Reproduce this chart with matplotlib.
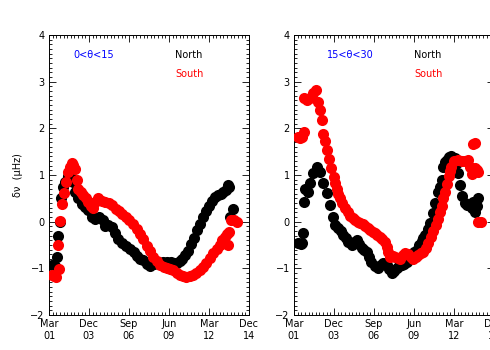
import matplotlib
matplotlib.use('Agg')
import matplotlib.pyplot as plt
from matplotlib.ticker import AutoMinorLocator

plt.rcParams.update({
    'font.family': ['DejaVu Sans'],
    'font.size': 7,
    'axes.unicode_minus': True,
})

# x ticks (decimal years) and labels
tick_years = [2001.17, 2003.92, 2006.67, 2009.42, 2012.17, 2014.92]
tick_labels = ['Mar\n01', 'Dec\n03', 'Sep\n06', 'Jun\n09', 'Mar\n12', 'Dec\n14']

# ---- left panel: 0 < theta < 15 ----
left_north_t = [2001.35, 2001.55, 2001.74, 2001.81, 2001.93, 2002.00, 2002.15, 2002.30, 2002.45,
                2002.60, 2002.80, 2002.96, 2003.18, 2003.41, 2003.65, 2003.87, 2004.10, 2004.35,
                2004.60, 2004.85, 2005.05, 2005.25, 2005.48, 2005.70, 2005.95, 2006.17, 2006.45,
                2006.75, 2007.00, 2007.20, 2007.45, 2007.65, 2007.90, 2008.10, 2008.40, 2008.70,
                2009.00, 2009.30, 2009.55, 2009.80, 2009.95, 2010.15, 2010.35, 2010.55, 2010.75,
                2010.95, 2011.15, 2011.35, 2011.55, 2011.75, 2011.95, 2012.15, 2012.35, 2012.60,
                2012.80, 2013.00, 2013.15, 2013.35, 2013.50, 2013.58, 2013.60, 2013.84]
left_north_v = [-0.93, -0.95, -0.75, -0.30, 0.00, 0.50, 0.75, 0.85, 0.97,
                0.98, 0.85, 0.63, 0.50, 0.38, 0.32, 0.24, 0.11, 0.06,
                0.09, 0.03, -0.10, -0.08, -0.12, -0.25, -0.38, -0.46, -0.52,
                -0.58, -0.66, -0.74, -0.79, -0.82, -0.90, -0.95, -0.91, -0.87,
                -0.86, -0.86, -0.86, -0.88, -0.89, -0.85, -0.80, -0.72, -0.62,
                -0.48, -0.35, -0.18, -0.05, 0.10, 0.22, 0.33, 0.44, 0.52,
                0.57, 0.60, 0.63, 0.68, 0.78, 0.74, 0.11, 0.28]

left_south_t = [2001.35, 2001.50, 2001.65, 2001.85, 2001.81, 2001.95, 2002.05, 2002.20, 2002.35,
                2002.50, 2002.62, 2002.73, 2002.85, 2002.96, 2003.07, 2003.18, 2003.35, 2003.53,
                2003.70, 2003.87, 2004.05, 2004.20, 2004.35, 2004.56, 2004.80, 2005.05, 2005.30,
                2005.50, 2005.75, 2006.00, 2006.20, 2006.45, 2006.70, 2006.95, 2007.20, 2007.45,
                2007.65, 2007.90, 2008.10, 2008.35, 2008.60, 2008.80, 2009.05, 2009.30, 2009.50,
                2009.70, 2009.95, 2010.17, 2010.40, 2010.60, 2010.85, 2011.10, 2011.30, 2011.55,
                2011.75, 2012.00, 2012.25, 2012.47, 2012.70, 2012.90, 2013.10, 2013.27, 2013.40,
                2013.45, 2013.55, 2013.70, 2013.90, 2014.10]
left_south_v = [-1.14, -1.16, -1.18, -1.02, -0.50, 0.02, 0.38, 0.62, 0.86,
                1.07, 1.18, 1.25, 1.22, 1.12, 0.90, 0.70, 0.64, 0.58,
                0.50, 0.42, 0.33, 0.30, 0.42, 0.50, 0.44, 0.42, 0.40,
                0.35, 0.28, 0.22, 0.17, 0.10, 0.04, -0.05, -0.15, -0.26,
                -0.38, -0.52, -0.63, -0.75, -0.85, -0.92, -0.97, -1.00, -1.02,
                -1.04, -1.10, -1.14, -1.17, -1.18, -1.16, -1.14, -1.10, -1.04,
                -0.98, -0.89, -0.78, -0.68, -0.58, -0.50, -0.40, -0.32, -0.27,
                -0.50, -0.22, 0.04, 0.04, 0.00]

# ---- right panel: 15 < theta < 30 ----
right_north_t = [2001.47, 2001.62, 2001.72, 2001.81, 2001.83, 2001.93, 2002.10, 2002.27, 2002.50,
                 2002.73, 2002.96, 2003.18, 2003.42, 2003.65, 2003.83, 2004.00, 2004.22, 2004.40,
                 2004.56, 2004.75, 2004.90, 2005.14, 2005.30, 2005.48, 2005.65, 2005.83, 2006.00,
                 2006.17, 2006.35, 2006.50, 2006.75, 2006.97, 2007.15, 2007.30, 2007.54, 2007.70,
                 2007.88, 2008.05, 2008.22, 2008.40, 2008.57, 2008.75, 2008.92, 2009.10, 2009.26,
                 2009.45, 2009.60, 2009.80, 2009.95, 2010.06, 2010.20, 2010.40, 2010.55, 2010.75,
                 2010.90, 2011.10, 2011.20, 2011.33, 2011.44, 2011.55, 2011.67, 2011.85, 2012.00,
                 2012.24, 2012.35, 2012.47, 2012.58, 2012.70, 2012.93, 2013.10, 2013.38, 2013.45,
                 2013.60, 2013.73, 2013.84]
right_north_v = [-0.46, -0.48, -0.46, -0.25, 0.43, 0.71, 0.64, 0.82, 1.04,
                 1.18, 1.07, 0.82, 0.61, 0.36, 0.11, -0.07, -0.14, -0.21,
                 -0.28, -0.36, -0.43, -0.50, -0.44, -0.39, -0.48, -0.57, -0.60,
                 -0.64, -0.75, -0.86, -0.95, -1.00, -0.92, -0.89, -0.93, -1.02,
                 -1.10, -1.05, -1.00, -0.96, -0.93, -0.90, -0.86, -0.79, -0.71,
                 -0.65, -0.60, -0.50, -0.42, -0.36, -0.28, -0.15, -0.02, 0.18,
                 0.40, 0.64, 0.75, 0.89, 1.18, 1.28, 1.32, 1.38, 1.40,
                 1.36, 1.25, 1.04, 0.79, 0.55, 0.39, 0.36, 0.29, 0.43,
                 0.21, 0.33, 0.50]

right_south_t = [2001.47, 2001.60, 2001.72, 2001.86, 2001.88, 2002.04, 2002.27, 2002.50, 2002.66,
                 2002.84, 2002.96, 2003.07, 2003.18, 2003.30, 2003.42, 2003.58, 2003.73, 2003.89,
                 2004.00, 2004.10, 2004.20, 2004.33, 2004.50, 2004.68, 2004.85, 2005.02, 2005.20,
                 2005.36, 2005.55, 2005.71, 2005.90, 2006.05, 2006.25, 2006.40, 2006.60, 2006.74,
                 2006.90, 2007.08, 2007.25, 2007.43, 2007.55, 2007.65, 2007.80, 2007.95, 2008.11,
                 2008.30, 2008.46, 2008.65, 2008.80, 2009.03, 2009.20, 2009.37, 2009.55, 2009.72,
                 2009.90, 2010.06, 2010.25, 2010.40, 2010.58, 2010.75, 2010.92, 2011.10, 2011.22,
                 2011.33, 2011.45, 2011.55, 2011.68, 2011.80, 2011.90, 2012.00, 2012.17, 2012.47,
                 2012.70, 2012.93, 2013.15, 2013.30, 2013.38, 2013.50, 2013.60, 2013.62, 2013.73,
                 2013.84, 2013.84, 2014.00]
right_south_v = [1.82, 1.80, 1.82, 1.93, 2.64, 2.61, 2.64, 2.75, 2.82,
                 2.57, 2.39, 2.18, 1.88, 1.72, 1.54, 1.35, 1.15, 0.95,
                 0.82, 0.70, 0.60, 0.50, 0.40, 0.30, 0.20, 0.12, 0.07,
                 0.03, 0.00, -0.02, -0.06, -0.10, -0.14, -0.17, -0.22, -0.25,
                 -0.28, -0.32, -0.38, -0.44, -0.55, -0.65, -0.76, -0.74, -0.75,
                 -0.78, -0.79, -0.72, -0.68, -0.70, -0.76, -0.79, -0.76, -0.72,
                 -0.68, -0.64, -0.56, -0.46, -0.33, -0.20, -0.07, 0.06, 0.20,
                 0.33, 0.50, 0.63, 0.80, 0.97, 1.08, 1.18, 1.29, 1.32,
                 1.31, 1.29, 1.33, 1.18, 1.02, 1.66, 1.68, 1.14, 1.11,
                 1.06, 0.00, 0.00]

err_val = 0.1

panels = [
    ('0<θ<15', left_north_t, left_north_v, left_south_t, left_south_v, 0.100, 0.225, 0.63),
    ('15<θ<30', right_north_t, right_north_v, right_south_t, right_south_v, 0.600, 0.28, 0.60),
]

fig = plt.figure(figsize=(4.9, 3.5), dpi=100)

for label, nt, nv, st, sv, x0, lab_x, ns_x in panels:
    ax = fig.add_axes([x0, 0.10, 0.408, 0.80])
    ax.errorbar(nt, nv, yerr=err_val, fmt='o', color='black', ms=8, mew=0,
                ecolor='#808080', elinewidth=0.5, capsize=1.3, zorder=3)
    ax.errorbar(st, sv, yerr=err_val, fmt='o', color='red', ms=8, mew=0,
                ecolor='#ff8080', elinewidth=0.5, capsize=1.3, zorder=4)

    ax.set_xlim(tick_years[0], tick_years[-1])
    ax.set_ylim(-2, 4)
    ax.set_xticks(tick_years)
    ax.set_xticklabels(tick_labels)
    ax.set_yticks(range(-2, 5))
    ax.xaxis.set_minor_locator(AutoMinorLocator(11))
    ax.yaxis.set_minor_locator(AutoMinorLocator(10))
    ax.tick_params(which='both', direction='in', top=True, right=True, width=0.6,
                   labelsize=7, pad=3)
    ax.tick_params(which='major', length=5)
    ax.tick_params(which='minor', length=2.5)
    for sp in ax.spines.values():
        sp.set_linewidth(0.7)

    ax.text(lab_x, 0.93, label, color='blue', transform=ax.transAxes,
            ha='center', va='center', fontsize=7)
    ax.text(ns_x, 0.93, 'North', color='black', transform=ax.transAxes,
            ha='left', va='center', fontsize=7)
    ax.text(ns_x, 0.86, 'South', color='red', transform=ax.transAxes,
            ha='left', va='center', fontsize=7)

fig.text(18 / 490, 0.5, 'δν  (μHz)', rotation=90, ha='center', va='center', fontsize=7)

plt.savefig('out.png', dpi=100)
plt.close()
